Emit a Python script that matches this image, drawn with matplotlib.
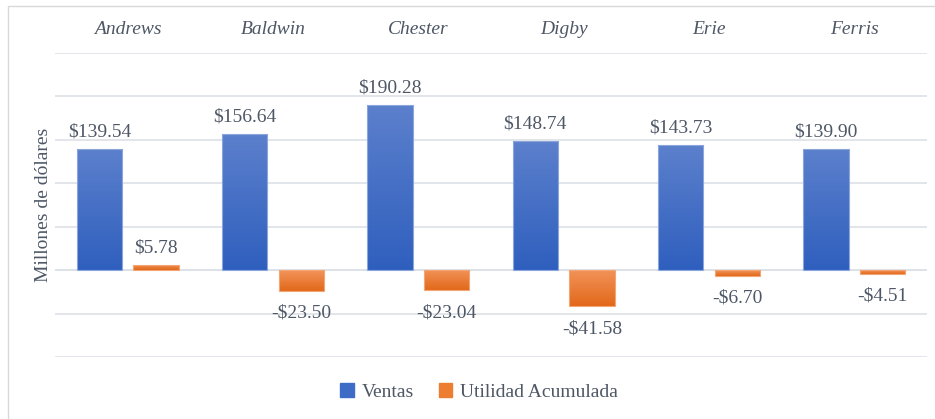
import numpy as np
import matplotlib
matplotlib.use("Agg")
from matplotlib import pyplot as plt
from matplotlib.colors import LinearSegmentedColormap
from matplotlib.patches import Patch, Rectangle

empresas = ["Andrews", "Baldwin", "Chester", "Digby", "Erie", "Ferris"]
ventas = [139.54, 156.64, 190.28, 148.74, 143.73, 139.90]
utilidad = [5.78, -23.50, -23.04, -41.58, -6.70, -4.51]
series_names = ["Ventas", "Utilidad Acumulada"]

plt.rcParams["font.family"] = ["Liberation Serif", "DejaVu Serif"]
txt_color = "#4d5766"
grid_color = "#dde1e8"

blue_cmap = LinearSegmentedColormap.from_list("b", ["#2f5fbe", "#5c80cc"])
orange_cmap = LinearSegmentedColormap.from_list("o", ["#e2681a", "#f2945a"])


def fill_gradient(ax, bars, cmap):
    grad = np.linspace(0, 1, 256).reshape(-1, 1)
    for b in bars:
        x, y = b.get_x(), b.get_y()
        w, h = b.get_width(), b.get_height()
        y0, y1 = min(y, y + h), max(y, y + h)
        im = ax.imshow(grad, extent=[x, x + w, y0, y1], origin="lower",
                       aspect="auto", cmap=cmap, zorder=2, interpolation="bilinear")
        im.set_clip_path(b)


fig = plt.figure(figsize=(9.35, 4.19), dpi=100)
ax = fig.add_axes([55 / 935, 1 - 357 / 419, 872 / 935, 304 / 419])

x = np.arange(len(empresas))
w = 0.31
off = 0.195
b1 = ax.bar(x - off, ventas, w, color="none", edgecolor="#8aa6dc", linewidth=0.8, zorder=3)
b2 = ax.bar(x + off, utilidad, w, color="none", edgecolor="#f4a574", linewidth=0.8, zorder=3)
fill_gradient(ax, b1, blue_cmap)
fill_gradient(ax, b2, orange_cmap)

for xi, v in zip(x - off, ventas):
    ax.annotate(f"${v:.2f}", (xi, v), xytext=(0, 6), textcoords="offset points",
                ha="center", va="bottom", fontsize=14, color=txt_color)
for xi, v in zip(x + off, utilidad):
    if v >= 0:
        ax.annotate(f"${v:.2f}", (xi, v), xytext=(0, 6), textcoords="offset points",
                    ha="center", va="bottom", fontsize=14, color=txt_color)
    else:
        ax.annotate(f"-${-v:.2f}", (xi, v), xytext=(0, -10), textcoords="offset points",
                    ha="center", va="top", fontsize=14, color=txt_color)

ax.set_xlim(-0.5, len(empresas) - 0.5)
ax.set_ylim(-100, 250)
ax.set_yticks(np.arange(-100, 251, 50))
ax.set_yticklabels([])
ax.tick_params(axis="y", length=0)
ax.yaxis.grid(True, color=grid_color, linewidth=1.2)
ax.set_axisbelow(True)
ax.axhline(0, color=grid_color, linewidth=1.2, zorder=1)

ax.xaxis.tick_top()
ax.set_xticks(x)
ax.set_xticklabels(empresas, fontsize=14, style="italic", color=txt_color)
ax.tick_params(axis="x", length=0, pad=11)
for s in ax.spines.values():
    s.set_visible(False)

fig.text(44 / 935, 1 - 205 / 419, "Millones de dólares", rotation=90,
         ha="center", va="center", fontsize=14, color=txt_color)

handles = [Patch(color="#3e6bc6"), Patch(color="#ed7d31")]
fig.legend(handles, series_names, loc="center", bbox_to_anchor=(479 / 935, 1 - 392 / 419),
           ncol=2, frameon=False, fontsize=14, handlelength=0.7, handleheight=0.7,
           handletextpad=0.4, columnspacing=1.3, labelcolor=txt_color)

fig.patches.append(Rectangle((8 / 935, -0.1), 1.1, 1.1 - 6 / 419, transform=fig.transFigure,
                             fill=False, edgecolor="#d9d9d9", linewidth=1))

fig.savefig("out.png", dpi=100)
